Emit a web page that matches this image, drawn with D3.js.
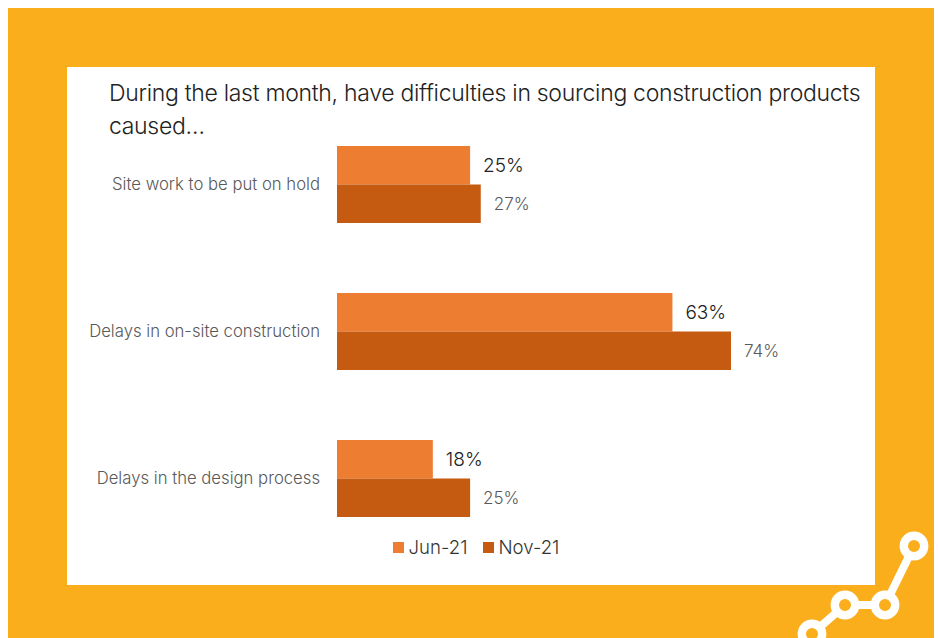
<!DOCTYPE html>
<html>
<head>
<meta charset="utf-8">
<script src="https://cdnjs.cloudflare.com/ajax/libs/d3/7.8.5/d3.min.js"></script>
<style>
html,body{margin:0;padding:0;background:#fff;}
svg{display:block;}
text{font-family:"Inter","Noto Sans",sans-serif;}
</style>
</head>
<body>
<svg id="chart" width="938" height="638"></svg>
<script>
// Survey responses, by difficulty and survey month (percent)
const categories = ["Site work to be put on hold", "Delays in on-site construction", "Delays in the design process"];
const seriesNames = ["Jun-21", "Nov-21"];
const jun21 = [25, 63, 18];
const nov21 = [27, 74, 25];
const titleLines = ["During the last month, have difficulties in sourcing construction products", "caused\u2026"];
// Decorative line-graph motif in the lower right corner
const motifX = [812, 845, 885, 914];
const motifY = [634, 605, 605, 546];

const barColors = ["#ed7d31", "#c55a11"];
const labelColors = ["#222222", "#595959"];

const svg = d3.select("#chart");

svg.append("rect").attr("x", 8).attr("y", 8).attr("width", 926).attr("height", 630).attr("fill", "#fbae1c");
svg.append("rect").attr("x", 67).attr("y", 67).attr("width", 808).attr("height", 518).attr("fill", "#ffffff");

// Title
svg.append("g").selectAll("text").data(titleLines).join("text")
  .attr("x", 109)
  .attr("y", (d, i) => 101 + i * 33)
  .attr("font-size", 23)
  .attr("font-weight", 300)
  .attr("letter-spacing", -0.3)
  .attr("fill", "#222222")
  .text(d => d);

// Scales
const x = d3.scaleLinear().domain([0, 74]).range([337, 731]);
const y = d3.scaleBand().domain(categories).range([111, 552]).paddingInner(70 / 147).paddingOuter(35 / 147);
const inner = d3.scaleBand().domain(seriesNames).range([0, y.bandwidth()]);

// Category labels
const axis = d3.axisLeft(y).tickSize(0).tickPadding(17);
const axisG = svg.append("g").attr("transform", "translate(337,0)").call(axis);
axisG.select(".domain").remove();
axisG.selectAll("text")
  .style("font-family", '"Inter","Noto Sans",sans-serif')
  .attr("font-size", 16.7)
  .attr("font-weight", 300)
  .attr("fill", "#595959");

// Bars and value labels
const rows = categories.map((c, i) => ({c, values: [jun21[i], nov21[i]]}));
const groups = svg.append("g").selectAll("g").data(rows).join("g")
  .attr("transform", d => `translate(0,${y(d.c)})`);

seriesNames.forEach((name, s) => {
  groups.append("rect")
    .attr("x", x(0))
    .attr("y", inner(name))
    .attr("width", d => x(d.values[s]) - x(0))
    .attr("height", inner.bandwidth())
    .attr("fill", barColors[s]);
  groups.append("text")
    .attr("x", d => x(d.values[s]) + 13)
    .attr("y", inner(name) + inner.bandwidth() / 2)
    .attr("dy", "0.35em")
    .attr("font-size", s === 0 ? 19 : 17)
    .attr("font-weight", 300)
    .attr("fill", labelColors[s])
    .text(d => d.values[s] + "%");
});

// Legend
const legendX = [393, 483];
const legend = svg.append("g").selectAll("g").data(seriesNames).join("g")
  .attr("transform", (d, i) => `translate(${legendX[i]},542)`);
legend.append("rect").attr("width", 11).attr("height", 11).attr("fill", (d, i) => barColors[i]);
legend.append("text")
  .attr("x", 15.5).attr("y", 5.5).attr("dy", "0.36em")
  .attr("font-size", 18.6).attr("font-weight", 300).attr("fill", "#333333")
  .text(d => d);

// Corner motif
const motif = d3.range(motifX.length).map(i => [motifX[i], motifY[i]]);
svg.append("path")
  .attr("d", d3.line()(motif))
  .attr("fill", "none").attr("stroke", "#ffffff").attr("stroke-width", 8);
svg.append("g").selectAll("circle").data(motif).join("circle")
  .attr("cx", d => d[0]).attr("cy", d => d[1])
  .attr("r", 10.2)
  .attr("fill", "#fbae1c").attr("stroke", "#ffffff").attr("stroke-width", 8.4);
</script>
</body>
</html>
